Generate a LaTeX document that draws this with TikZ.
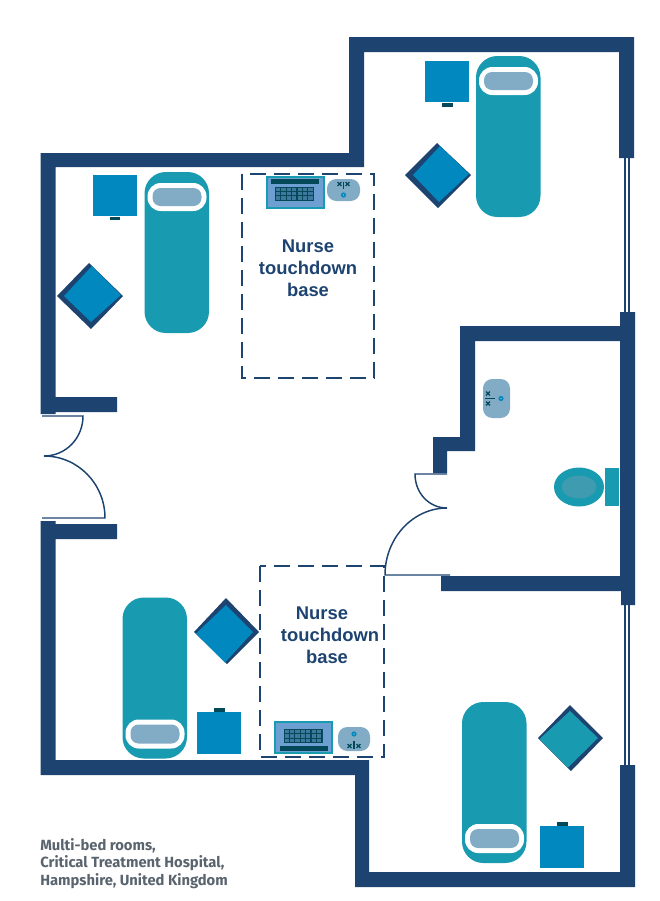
\documentclass[tikz,border=0pt]{standalone}
\usepackage{fontspec}
\setmainfont{Liberation Sans}
\newfontfamily\capfont{Fira Sans}
\definecolor{navy}{HTML}{1D4370}
\definecolor{tealbed}{HTML}{189AB0}
\definecolor{stand}{HTML}{0088BF}
\definecolor{pillow}{HTML}{82ABC5}
\definecolor{darkteal}{HTML}{03495A}
\definecolor{deskblue}{HTML}{6E9FD2}
\definecolor{toiletin}{HTML}{3F9BAF}
\definecolor{capgrey}{HTML}{5A646E}
\tikzset{
 wall/.style={fill=navy,draw=none},
 thinline/.style={draw=navy,line width=1.1pt},
 glass/.style={draw=navy,line width=1pt},
 basebox/.style={draw=navy,line width=1.1pt,dash pattern=on 12pt off 6pt},
 bedshape/.style={fill=tealbed,draw=none,rounded corners=16pt},
 pilloutline/.style={fill=white,draw=none,rounded corners=10pt},
 pillinner/.style={fill=pillow,draw=none,rounded corners=6pt},
 standbox/.style={fill=stand,draw=none},
 tabbox/.style={fill=darkteal,draw=none},
 sinkbox/.style={fill=pillow,draw=none,rounded corners=7pt},
 deskbox/.style={fill=deskblue,draw=tealbed,line width=1.1pt},
 baselabel/.style={text=navy,font=\fontsize{13.8pt}{16.5pt}\selectfont\bfseries,align=center},
 caplabel/.style={text=capgrey,font=\capfont\fontsize{11.07pt}{13.2pt}\selectfont\bfseries,align=left,anchor=north west,inner sep=0pt}
}
\newcommand{\bedtop}[3]{%
 \fill[bedshape] (#1,#2) rectangle ++(64.5,161);
 \fill[pilloutline] (#1+3,#2+11) rectangle ++(59,28);
 \fill[pillinner] (#1+8,#2+16) rectangle ++(49,18);
}
\newcommand{\bedbot}[2]{%
 \fill[bedshape] (#1,#2) rectangle ++(64.5,161);
 \fill[pilloutline] (#1+3,#2+122) rectangle ++(59,29);
 \fill[pillinner] (#1+8,#2+127) rectangle ++(49,19);
}
\newcommand{\keyb}[4]{%
 \fill[darkteal] (#1,#2) rectangle ++(#3,#4);
 \foreach \k in {0,1,...,6} \fill[deskblue!55!darkteal] (#1+1+\k*5.4,#2+1) rectangle ++(4.2,3.4);
 \foreach \k in {0,1,...,6} \fill[deskblue!55!darkteal] (#1+1+\k*5.4,#2+5.4) rectangle ++(4.2,3.4);
 \foreach \k in {0,1,...,6} \fill[deskblue!55!darkteal] (#1+1+\k*5.4,#2+9.8) rectangle ++(4.2,3.4);
}
\newcommand{\tapdot}[2]{\fill[stand] (#1,#2) circle (2.6);\fill[pillow] (#1,#2) circle (0.9);}
\newcommand{\xmark}[2]{\draw[darkteal,line width=0.9pt] (#1-1.9,#2-1.9) -- (#1+1.9,#2+1.9) (#1-1.9,#2+1.9) -- (#1+1.9,#2-1.9);}
\begin{document}
\begin{tikzpicture}[x=0.75pt,y=-0.75pt]
\useasboundingbox (0,0) rectangle (660,901);
% walls
\path[wall] (40.5,153) -- (349,153) -- (349,37) -- (634,37) -- (634,158) -- (619,158) -- (619,52) -- (364,52) -- (364,167) -- (55.5,167) -- (55.5,397) -- (117,397) -- (117,412) -- (55.5,412) -- (55.5,414) -- (40.5,414) -- cycle;
\path[wall] (40.5,521) -- (55.5,521) -- (55.5,524) -- (117,524) -- (117,539) -- (55.5,539) -- (55.5,760) -- (369,760) -- (369,872) -- (620,872) -- (620,765) -- (635,765) -- (635,887) -- (355,887) -- (355,775) -- (40.5,775) -- cycle;
\path[wall] (620,312) -- (635,312) -- (635,605) -- (621,605) -- (621,591) -- (441,591) -- (441,576) -- (620,576) -- (620,341) -- (475,341) -- (475,451) -- (447,451) -- (447,473) -- (433,473) -- (433,437) -- (460,437) -- (460,326) -- (620,326) -- cycle;
% windows
\draw[glass] (625,158) -- (625,312) (629,158) -- (629,312);
\draw[glass] (625,605) -- (625,765) (629,605) -- (629,765);
% doors
\draw[thinline] (42,416) -- (83,416) .. controls (83,438) and (66,456) .. (44,456);
\draw[thinline] (44,456) .. controls (78,456) and (105,484) .. (105,518) -- (42,518);
\draw[thinline] (447,474) -- (415,474) .. controls (415,493) and (429,508) .. (447,508);
\draw[thinline] (447,508) .. controls (413,508) and (385,538) .. (385,575) -- (450,575);
% base boxes
\draw[basebox] (242,174) rectangle (374,378);
\draw[basebox] (260,566) rectangle (384,757);
\node[baselabel] (lblA) at (308,268) {Nurse\\touchdown\\base};
\node[baselabel] (lblB1) at (322,613) {Nurse};
\node[baselabel] (lblB2) at (330,635) {touchdown};
\node[baselabel] (lblB3) at (327,657) {base};
% beds
\bedtop{476}{56}{}
\bedtop{144.5}{172}{}
\bedbot{122.5}{597.5}
\bedbot{462}{702}
% stands
\fill[standbox] (425,61) rectangle (469,102);
\fill[tabbox] (442,103) rectangle (453,107);
\fill[standbox] (93,175) rectangle (137,216);
\fill[tabbox] (110,216.5) rectangle (120,220);
\fill[standbox] (197,712) rectangle (241,754);
\fill[tabbox] (214,708) rectangle (225,712);
\fill[standbox] (540,826) rectangle (584,868);
\fill[tabbox] (557,822) rectangle (568,826);
% chairs
\fill[navy] (437,143) -- (471,175) -- (438,208) -- (405,175) -- cycle;
\fill[stand] (440,146) -- (469,174) -- (439,202) -- (413,175) -- cycle;
\fill[navy] (89,263) -- (123,296) -- (91,329) -- (57,296) -- cycle;
\fill[stand] (92,266) -- (121,295) -- (91,322) -- (64,296) -- cycle;
\fill[navy] (226,598) -- (259,632) -- (227,664) -- (194,632) -- cycle;
\fill[stand] (226,605) -- (253,632) -- (225,662.5) -- (196,633.5) -- cycle;
\fill[navy] (570,705) -- (603,738) -- (571,771) -- (538,738) -- cycle;
\fill[tealbed] (570,711) -- (598,738) -- (568,767.5) -- (539.5,739) -- cycle;
% desk top
\draw[deskbox] (267,177) rectangle (324,208);
\fill[darkteal] (271,179) rectangle (319,184);
\keyb{275}{186.5}{39}{14.4}
\fill[sinkbox] (327,179) rectangle (360,201);
\xmark{339.5}{184}\xmark{347.5}{184}
\draw[darkteal,line width=0.9pt] (343.5,181.5) -- (343.5,189);
\tapdot{343.5}{195}
% desk bottom
\draw[deskbox] (275,722) rectangle (332,753);
\fill[darkteal] (280,746) rectangle (328,751);
\keyb{283.5}{729}{39}{14.4}
\fill[sinkbox] (338,727) rectangle (370,751);
\xmark{349.5}{746}\xmark{358.5}{746}
\draw[darkteal,line width=0.9pt] (354,741) -- (354,749);
\tapdot{354}{734}
% bathroom
\fill[sinkbox] (483,379) rectangle (510,418);
\xmark{488}{393.5}\xmark{488}{403.5}
\draw[darkteal,line width=0.9pt] (485,398.5) -- (495,398.5);
\tapdot{501}{398.5}
\fill[tealbed] (579,487) ellipse [x radius=25,y radius=19.5];
\fill[toiletin] (579,487) ellipse [x radius=17.5,y radius=11.5];
\fill[tealbed] (605,468) rectangle (619,506);
% caption
\node[caplabel] (cap) at (40,838) {Multi-bed rooms,\\Critical Treatment Hospital,\\Hampshire, United Kingdom};
\end{tikzpicture}
\end{document}
